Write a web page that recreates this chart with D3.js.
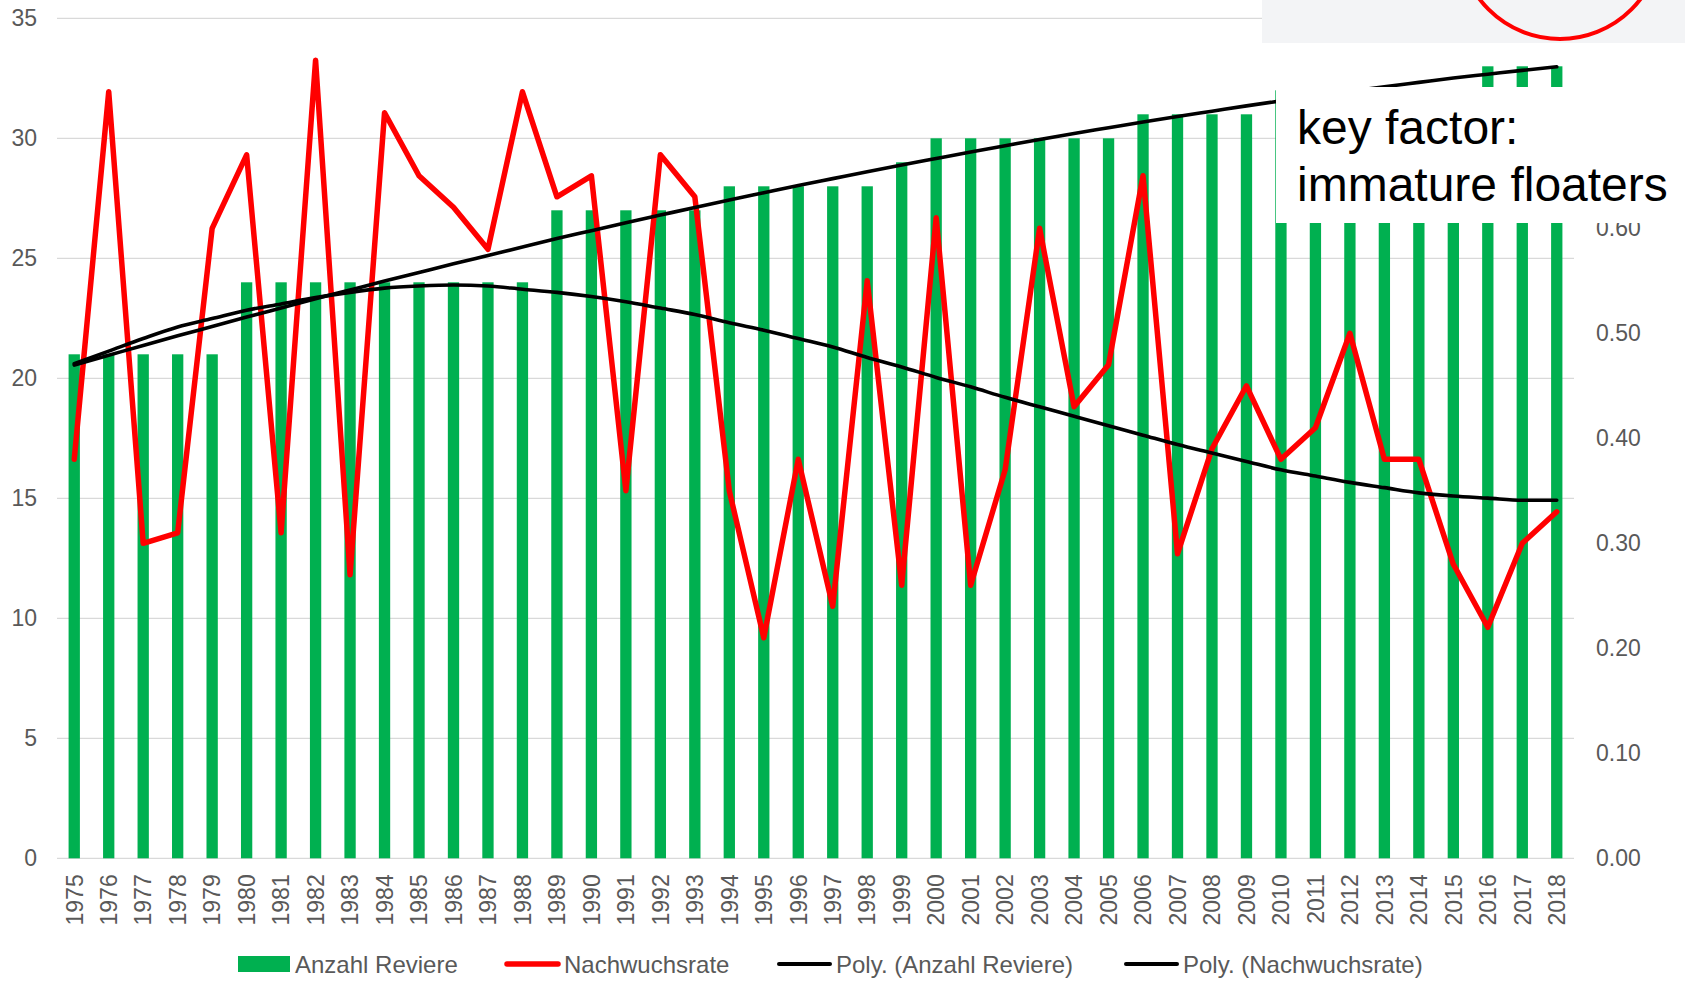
<!DOCTYPE html>
<html>
<head>
<meta charset="utf-8">
<script src="https://cdn.jsdelivr.net/npm/d3@7"></script>
<style>
  body { margin: 0; background: #fff; }
  svg { display: block; font-family: "Liberation Sans", Arial, sans-serif; }
</style>
</head>
<body>
<svg></svg>
<script>
const years = d3.range(1975, 2019);

// Anzahl Reviere (left axis)
const reviere = [21, 21, 21, 21, 21, 24, 24, 24, 24, 24, 24, 24, 24, 24, 27, 27, 27, 27, 27, 28,
                 28, 28, 28, 28, 29, 30, 30, 30, 30, 30, 30, 31, 31, 31, 31, 32, 32, 32, 32, 32,
                 32, 33, 33, 33];

// Nachwuchsrate (right axis)
const nachwuchs = [0.38, 0.73, 0.30, 0.31, 0.60, 0.67, 0.31, 0.76, 0.27, 0.71, 0.65, 0.62, 0.58, 0.73, 0.63,
                   0.65, 0.35, 0.67, 0.63, 0.35, 0.21, 0.38, 0.24, 0.55, 0.26, 0.61, 0.26, 0.37, 0.60, 0.43,
                   0.47, 0.65, 0.29, 0.39, 0.45, 0.38, 0.41, 0.50, 0.38, 0.38, 0.28, 0.22, 0.30, 0.33];

// Poly. (Anzahl Reviere)
const polyReviere = [20.55, 20.96, 21.37, 21.77, 22.16, 22.55, 22.93, 23.31, 23.68, 24.05, 24.41, 24.77, 25.12, 25.47,
                     25.82, 26.15, 26.48, 26.80, 27.12, 27.43, 27.73, 28.03, 28.32, 28.61, 28.89, 29.16, 29.43, 29.69,
                     29.95, 30.20, 30.44, 30.68, 30.91, 31.13, 31.35, 31.56, 31.76, 31.96, 32.15, 32.33, 32.51, 32.67,
                     32.83, 32.98];

// Poly. (Nachwuchsrate)
const polyNachwuchs = [0.471, 0.483, 0.495, 0.506, 0.514, 0.522, 0.528, 0.534, 0.539, 0.543, 0.545, 0.546, 0.545, 0.542,
                       0.539, 0.535, 0.530, 0.524, 0.518, 0.510, 0.503, 0.495, 0.487, 0.477, 0.468, 0.458, 0.449, 0.439,
                       0.430, 0.421, 0.412, 0.403, 0.394, 0.386, 0.378, 0.370, 0.364, 0.358, 0.353, 0.348, 0.345, 0.343,
                       0.341, 0.341];

const leftTicks = [0, 5, 10, 15, 20, 25, 30, 35];
const rightTicks = [0, 0.1, 0.2, 0.3, 0.4, 0.5, 0.6, 0.7, 0.8];

const legendItems = [
  {label: "Anzahl Reviere", type: "rect", color: "#00b050", x: 238},
  {label: "Nachwuchsrate", type: "line", color: "#ff0000", x: 505, w: 5.5},
  {label: "Poly. (Anzahl Reviere)", type: "line", color: "#000", x: 777, w: 4},
  {label: "Poly. (Nachwuchsrate)", type: "line", color: "#000", x: 1124, w: 4}
];

const noteLines = ["key factor:", "immature floaters"];

const svg = d3.select("svg")
            .attr("width", 1685)
            .attr("height", 983);

const width = +svg.attr("width");
const height = +svg.attr("height");
const margin = {top: 18.3, right: 111, bottom: 124.7, left: 57};
const innerWidth = width - margin.left - margin.right;
const innerHeight = height - margin.top - margin.bottom;

const x = d3.scaleBand()
    .domain(years)
    .range([margin.left, margin.left + innerWidth])
    .paddingInner(0.672)
    .paddingOuter(0.336);

const yLeft = d3.scaleLinear()
    .domain([0, 35])
    .range([margin.top + innerHeight, margin.top]);

const yRight = d3.scaleLinear()
    .domain([0, 0.8])
    .range([margin.top + innerHeight, margin.top]);

const cx = d => x(d) + x.bandwidth() / 2;
const fmt = d3.format(".2f");

// gridlines
svg.append("g").attr("class", "grid")
   .selectAll("line")
   .data(leftTicks)
   .enter()
   .append("line")
     .attr("x1", margin.left)
     .attr("x2", margin.left + innerWidth)
     .attr("y1", d => yLeft(d))
     .attr("y2", d => yLeft(d))
     .style("stroke", "#d9d9d9")
     .style("stroke-width", 1.3);

// tick labels
svg.append("g").attr("class", "y-left")
   .selectAll("text")
   .data(leftTicks)
   .enter()
   .append("text")
     .text(d => d)
     .attr("x", margin.left - 20)
     .attr("y", d => yLeft(d))
     .attr("dy", "0.35em")
     .attr("text-anchor", "end")
     .attr("font-size", 23)
     .attr("fill", "#595959");

svg.append("g").attr("class", "y-right")
   .selectAll("text")
   .data(rightTicks)
   .enter()
   .append("text")
     .text(d => fmt(d))
     .attr("x", margin.left + innerWidth + 22)
     .attr("y", d => yRight(d))
     .attr("dy", "0.35em")
     .attr("font-size", 23)
     .attr("fill", "#595959");

svg.append("g").attr("class", "x-labels")
   .selectAll("text")
   .data(years)
   .enter()
   .append("text")
     .text(d => d)
     .attr("transform", d => `translate(${cx(d)},${margin.top + innerHeight + 16}) rotate(-90)`)
     .attr("dy", "0.36em")
     .attr("text-anchor", "end")
     .attr("font-size", 23)
     .attr("fill", "#595959");

// bars
svg.append("g").attr("class", "bars")
   .selectAll("rect")
   .data(years)
   .enter()
   .append("rect")
     .attr("x", d => x(d))
     .attr("width", x.bandwidth())
     .attr("y", (d, i) => yLeft(reviere[i]))
     .attr("height", (d, i) => yLeft(0) - yLeft(reviere[i]))
     .style("fill", "#00b050");

// Nachwuchsrate line
const rateLine = d3.line()
    .x((d, i) => cx(years[i]))
    .y(d => yRight(d));

svg.append("path")
   .datum(nachwuchs)
   .attr("d", rateLine)
   .style("fill", "none")
   .style("stroke", "#ff0000")
   .style("stroke-width", 5.5)
   .style("stroke-linejoin", "round")
   .style("stroke-linecap", "round");

// trend lines
const trendLeft = d3.line()
    .x((d, i) => cx(years[i]))
    .y(d => yLeft(d))
    .curve(d3.curveMonotoneX);

const trendRight = d3.line()
    .x((d, i) => cx(years[i]))
    .y(d => yRight(d))
    .curve(d3.curveMonotoneX);

svg.append("path")
   .datum(polyReviere)
   .attr("d", trendLeft)
   .style("fill", "none")
   .style("stroke", "#000")
   .style("stroke-width", 3.6)
   .style("stroke-linecap", "round");

svg.append("path")
   .datum(polyNachwuchs)
   .attr("d", trendRight)
   .style("fill", "none")
   .style("stroke", "#000")
   .style("stroke-width", 3.6)
   .style("stroke-linecap", "round");

// legend
const legend = svg.append("g").attr("class", "legend")
    .attr("transform", "translate(0,964)");

const item = legend.selectAll("g")
    .data(legendItems)
    .enter()
    .append("g")
      .attr("transform", d => `translate(${d.x},0)`);

item.filter(d => d.type === "rect")
    .append("rect")
      .attr("x", 0)
      .attr("y", -8)
      .attr("width", 52)
      .attr("height", 16)
      .style("fill", d => d.color);

item.filter(d => d.type === "line")
    .append("line")
      .attr("x1", 2)
      .attr("x2", 53)
      .attr("y1", 0)
      .attr("y2", 0)
      .style("stroke", d => d.color)
      .style("stroke-width", d => d.w)
      .style("stroke-linecap", "round");

item.append("text")
    .text(d => d.label)
    .attr("x", d => d.type === "rect" ? 57 : 59)
    .attr("dy", "0.36em")
    .attr("font-size", 24)
    .attr("fill", "#595959");

// pasted screenshot strip at top right
svg.append("rect")
   .attr("x", 1262)
   .attr("y", 0)
   .attr("width", width - 1262)
   .attr("height", 43)
   .style("fill", "#f3f4f6");

svg.append("circle")
   .attr("cx", 1560)
   .attr("cy", -62)
   .attr("r", 101)
   .style("fill", "none")
   .style("stroke", "#ff0000")
   .style("stroke-width", 4);

// text box
svg.append("rect")
   .attr("x", 1276)
   .attr("y", 87)
   .attr("width", width - 1276)
   .attr("height", 136)
   .style("fill", "#fff");

svg.append("g").attr("class", "note")
   .selectAll("text")
   .data(noteLines)
   .enter()
   .append("text")
     .text(d => d)
     .attr("x", 1297)
     .attr("y", (d, i) => 144 + i * 56.5)
     .attr("font-size", 48)
     .attr("fill", "#000");
</script>
</body>
</html>
